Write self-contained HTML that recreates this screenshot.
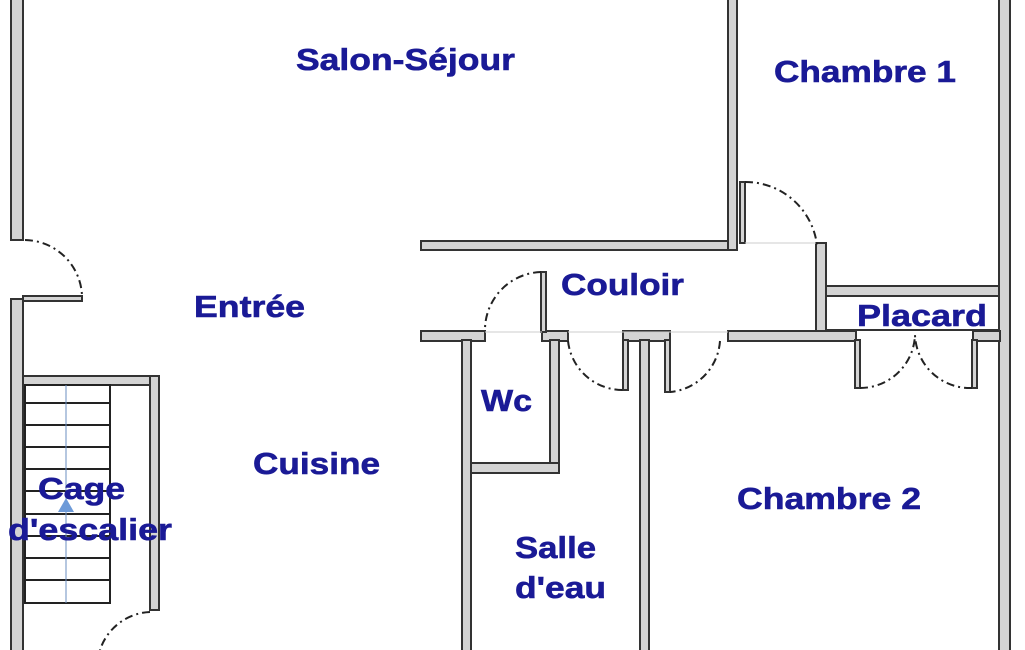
<!DOCTYPE html>
<html><head><meta charset="utf-8"><style>
html,body{margin:0;padding:0;background:#fff;}
svg{display:block}
text{font-family:"Liberation Sans",sans-serif;font-weight:bold;fill:#1a1a96;stroke:#1a1a96;stroke-width:0.6;font-size:31px}
</style></head><body>
<svg width="1025" height="650" viewBox="0 0 1025 650">
<g fill="#d4d4d4" stroke="#333" stroke-width="2">
<rect x="11" y="-5" width="12" height="245"/>
<rect x="11" y="299" width="12" height="360"/>
<rect x="23" y="296" width="59" height="5"/>
<rect x="23" y="376" width="136" height="9"/>
<rect x="150" y="376" width="9" height="234"/>
<rect x="421" y="241" width="316" height="9"/>
<rect x="728" y="-5" width="9" height="255"/>
<rect x="740" y="182" width="5" height="61"/>
<rect x="816" y="243" width="10" height="97"/>
<rect x="999" y="-5" width="11" height="660"/>
<rect x="826" y="286" width="173" height="10"/>
<rect x="826" y="296" width="173" height="34" fill="#fff"/>
<rect x="421" y="331" width="64" height="10"/>
<rect x="542" y="331" width="26" height="10"/>
<rect x="541" y="272" width="5" height="60"/>
<rect x="623" y="331" width="47" height="10"/>
<rect x="728" y="331" width="128" height="10"/>
<rect x="973" y="331" width="27" height="10"/>
<rect x="462" y="340" width="9" height="320"/>
<rect x="550" y="340" width="9" height="133"/>
<rect x="471" y="463" width="88" height="10"/>
<rect x="640" y="340" width="9" height="320"/>
<rect x="623" y="340" width="5" height="50"/>
<rect x="665" y="340" width="5" height="52"/>
<rect x="855" y="340" width="5" height="48"/>
<rect x="972" y="340" width="5" height="48"/>
</g>
<g stroke="#222" stroke-width="2">
<rect x="25" y="385" width="85" height="218" fill="none"/>
<line x1="25" y1="403" x2="110" y2="403"/><line x1="25" y1="425" x2="110" y2="425"/>
<line x1="25" y1="447" x2="110" y2="447"/><line x1="25" y1="469" x2="110" y2="469"/>
<line x1="25" y1="491" x2="110" y2="491"/><line x1="25" y1="514" x2="110" y2="514"/>
<line x1="25" y1="536" x2="110" y2="536"/><line x1="25" y1="558" x2="110" y2="558"/>
<line x1="25" y1="580" x2="110" y2="580"/>
</g>
<line x1="66" y1="385" x2="66" y2="603" stroke="#6b8fc0" stroke-width="1"/>
<polygon points="66,498 58,512 74,512" fill="#6d9ad8"/>
<g fill="none" stroke="#222" stroke-width="2" stroke-dasharray="8,4,2,4">
<path d="M25,240 A58,58 0 0 1 82,296"/>
<path d="M150,612 A55,55 0 0 0 100,650"/>
<path d="M745,182 A72,72 0 0 1 817,245"/>
<path d="M541,272 A58,58 0 0 0 485,331"/>
<path d="M568,341 A55,55 0 0 0 623,390"/>
<path d="M720,341 A55,55 0 0 1 670,392"/>
<path d="M860,388 A55,55 0 0 0 915,335"/>
<path d="M972,388 A55,55 0 0 1 915,335"/>
</g>
<g stroke="#ccc" stroke-width="1"><line x1="485" y1="332" x2="542" y2="332"/><line x1="568" y1="332" x2="728" y2="332"/><line x1="745" y1="243" x2="816" y2="243"/></g>
<text x="296" y="70" textLength="219" lengthAdjust="spacingAndGlyphs">Salon-Séjour</text>
<text x="774" y="82" textLength="182" lengthAdjust="spacingAndGlyphs">Chambre 1</text>
<text x="561" y="295" textLength="123" lengthAdjust="spacingAndGlyphs">Couloir</text>
<text x="857" y="326" textLength="130" lengthAdjust="spacingAndGlyphs">Placard</text>
<text x="194" y="317" textLength="111" lengthAdjust="spacingAndGlyphs">Entrée</text>
<text x="481" y="411" textLength="51" lengthAdjust="spacingAndGlyphs">Wc</text>
<text x="253" y="474" textLength="127" lengthAdjust="spacingAndGlyphs">Cuisine</text>
<text x="38" y="499" textLength="87" lengthAdjust="spacingAndGlyphs">Cage</text>
<text x="8" y="540" textLength="164" lengthAdjust="spacingAndGlyphs">d'escalier</text>
<text x="737" y="509" textLength="184" lengthAdjust="spacingAndGlyphs">Chambre 2</text>
<text x="515" y="558" textLength="81" lengthAdjust="spacingAndGlyphs">Salle</text>
<text x="515" y="598" textLength="91" lengthAdjust="spacingAndGlyphs">d'eau</text>
</svg>
</body></html>
